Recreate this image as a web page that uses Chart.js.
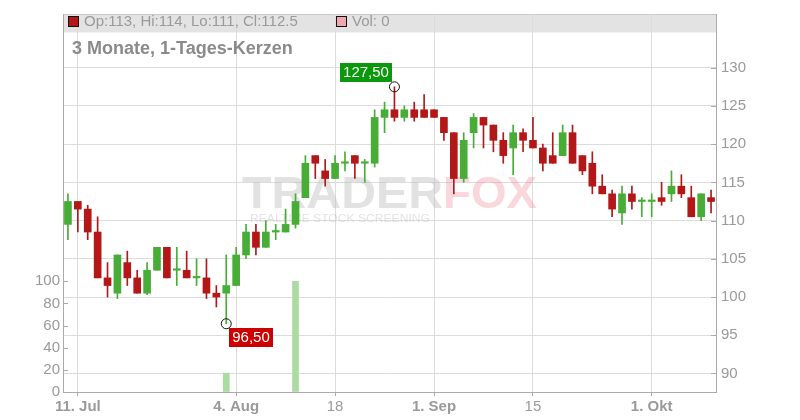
<!DOCTYPE html>
<html><head><meta charset="utf-8">
<script src="https://cdn.jsdelivr.net/npm/chart.js@4/dist/chart.umd.min.js"></script>
<style>html,body{margin:0;padding:0;background:#fff}#wrap{width:800px;height:420px;position:relative}canvas{display:block}</style>
</head><body><div id="wrap"><canvas id="c" width="800" height="420" style="width:800px;height:420px"></canvas></div>
<script>
const chartTitle = "3 Monate, 1-Tages-Kerzen";
const dates = [
"2025-07-10","2025-07-11","2025-07-14","2025-07-15","2025-07-16","2025-07-17","2025-07-18",
"2025-07-21","2025-07-22","2025-07-23","2025-07-24","2025-07-25",
"2025-07-28","2025-07-29","2025-07-30","2025-07-31","2025-08-01",
"2025-08-04","2025-08-05","2025-08-06","2025-08-07","2025-08-08",
"2025-08-11","2025-08-12","2025-08-13","2025-08-14","2025-08-15",
"2025-08-18","2025-08-19","2025-08-20","2025-08-21","2025-08-22",
"2025-08-25","2025-08-26","2025-08-27","2025-08-28","2025-08-29",
"2025-09-01","2025-09-02","2025-09-03","2025-09-04","2025-09-05",
"2025-09-08","2025-09-09","2025-09-10","2025-09-11","2025-09-12",
"2025-09-15","2025-09-16","2025-09-17","2025-09-18","2025-09-19",
"2025-09-22","2025-09-23","2025-09-24","2025-09-25","2025-09-26",
"2025-09-29","2025-09-30","2025-10-01","2025-10-02","2025-10-03",
"2025-10-06","2025-10-07","2025-10-08","2025-10-09"];
const opens = [109.5,112.5,111.5,108.5,102.5,100.5,104.5,102.5,100.5,103.5,
106.5,103.5,103.5,102.5,102.5,100.5,100.5,101.5,105.5,108.5,
106.5,108.5,108.5,109.5,113,118.5,116.5,115.5,117.5,118.5,
117.5,117.5,123.5,124.5,123.5,124.5,124.5,124.5,123.5,121.5,
115.5,121.5,123.5,122.5,120.5,119.5,121.5,120.5,119.5,118.5,
118.5,121.5,118.5,117.5,114.5,113.5,111,113.5,112.5,112.5,
113,113.5,114.5,113,110.5,113];
const highs = [113.5,112.5,112,110.5,104.5,105.5,106,103.5,104.5,106.5,
106.5,106.5,106,105,105,101.5,105.5,106.5,109.5,109.5,
110,109.5,111.5,113.5,118.5,118.5,118,118.5,119,118.5,
118,124.5,125.5,127.5,125,125.5,126.5,124.5,123.5,121.5,
121.5,124,123.5,122.5,121.5,122.5,122,123.5,120,121.5,
122.5,122.5,118.5,119,116,114,114.5,114.5,113,113.5,
115,116.5,116,114.5,113.5,114];
const lows = [107.5,108.5,107.5,102.5,100,99.8,101.5,100.5,100.3,103.5,
102.5,101.5,102.5,101.5,99.8,98.7,96.5,101.5,105,105.5,
106.5,107.5,108.5,109,113,115.5,114.5,115.5,116.5,115.5,
115,117,121.5,123,123,123,123.5,123.5,120.5,113.5,
115,119.5,119.5,119,117.5,116,119,119.5,116.5,117.5,
118.5,117.5,116,113.5,113.5,110.5,109.5,111.5,110.5,110.5,
112,112.5,113,110.5,110,111];
const closes = [112.5,111.5,108.5,102.5,101.5,105.5,102.5,100.5,103.5,106.5,
102.5,103.5,102.5,102.5,100.5,100,101.5,105.5,108.5,106.5,
108.5,108.5,109.5,112.5,117.5,117.5,115.5,117.5,117.5,117.5,
117.5,123.5,124.5,123.5,124.5,123.5,123.5,123.5,121.5,115.5,
120.5,123.5,122.5,120.5,118.5,121.5,120.5,119.5,117.5,117.5,
121.5,117.5,116.5,114.5,113.5,111.5,113.5,112.5,112.5,112.5,
112.5,114.5,113.5,110.5,113.5,112.5];
const volumes = [0,0,0,0,0,0,0,0,0,0,0,0,0,0,0,0,17,0,0,0,0,0,0,100,0,0,0,0,0,0,
0,0,0,0,0,0,0,0,0,0,0,0,0,0,0,0,0,0,0,0,0,0,0,0,0,0,0,0,0,0,0,0,0,0,0,0];
const xTickDates = ["2025-07-11","2025-08-04","2025-08-18","2025-09-01","2025-09-15","2025-10-01"];
const xTickLabels = ["11. Jul","4. Aug","18","1. Sep","15","1. Okt"];
const priceTicks = [90,95,100,105,110,115,120,125,130];
const volumeTicks = [0,20,40,60,80,100];

const FONT = '"Liberation Sans", Arial, sans-serif';
const RED = '#b31717', GREEN = '#47ad37', VOLC = '#aadca2';
const GRID = '#dcdcdc', AXIS = '#aaaaaa', TXT = '#9a9a9a';
const colors = closes.map((c, i) => c >= opens[i] ? GREEN : RED);
const labelFor = i => { const k = xTickDates.indexOf(dates[i]); return k >= 0 ? xTickLabels[k] : ''; };
const fmt = v => v.toFixed(2).replace('.', ',');

Chart.defaults.font.family = FONT;
Chart.defaults.font.size = 15;

const decor = {
  id: 'decor',
  beforeDraw(chart) {
    const {ctx, chartArea: a} = chart;
    ctx.save();
    ctx.fillStyle = '#e3e3e3';
    ctx.fillRect(a.left, a.top, a.right - a.left, 18.5);
    ctx.strokeStyle = '#c8c8c8'; ctx.lineWidth = 1;
    ctx.beginPath(); ctx.moveTo(a.left, a.top + 0.5); ctx.lineTo(a.right, a.top + 0.5); ctx.stroke();
    ctx.restore();
  },
  beforeDatasetsDraw(chart) {
    const {ctx, chartArea: a} = chart;
    ctx.save();
    // watermark
    ctx.textBaseline = 'alphabetic';
    ctx.font = 'bold 44px ' + FONT;
    let w = ctx.measureText('TRADER').width;
    ctx.save(); ctx.translate(242, 208); ctx.scale(201 / w, 1);
    ctx.fillStyle = 'rgba(185,185,185,0.42)'; ctx.fillText('TRADER', 0, 0); ctx.restore();
    w = ctx.measureText('FOX').width;
    ctx.save(); ctx.translate(443, 208); ctx.scale(94 / w, 1);
    ctx.fillStyle = 'rgba(235,95,115,0.25)'; ctx.fillText('FOX', 0, 0); ctx.restore();
    ctx.font = '11px ' + FONT;
    w = ctx.measureText('REALTIME STOCK SCREENING').width;
    ctx.save(); ctx.translate(250, 222); ctx.scale(180 / w, 1);
    ctx.fillStyle = 'rgba(190,190,190,0.45)'; ctx.fillText('REALTIME STOCK SCREENING', 0, 0); ctx.restore();
    // inward tick marks
    ctx.strokeStyle = AXIS; ctx.lineWidth = 1;
    const yv = chart.scales.yVol, yp = chart.scales.y;
    ctx.beginPath();
    yv.ticks.forEach(t => { const y = Math.round(yv.getPixelForValue(t.value)) + 0.5; ctx.moveTo(a.left, y); ctx.lineTo(a.left + 5, y); });
    yp.ticks.forEach(t => { const y = Math.round(yp.getPixelForValue(t.value)) + 0.5; ctx.moveTo(a.right - 5, y); ctx.lineTo(a.right, y); });
    ctx.stroke();
    ctx.restore();
  },
  afterDatasetsDraw(chart) {
    const {ctx} = chart;
    const xs = chart.scales.x, ys = chart.scales.y;
    ctx.save();
    // title
    ctx.font = 'bold 18px ' + FONT; ctx.fillStyle = '#8a8a8a'; ctx.textBaseline = 'alphabetic'; ctx.textAlign = 'left';
    ctx.fillText(chartTitle, 72, 54);
    // legend band
    const n = closes.length - 1;
    ctx.fillStyle = colors[n]; ctx.fillRect(68.5, 16.5, 10, 10);
    ctx.strokeStyle = '#111'; ctx.lineWidth = 1; ctx.strokeRect(68.5, 16.5, 10, 10);
    ctx.font = '15px ' + FONT; ctx.fillStyle = TXT; ctx.textBaseline = 'middle';
    ctx.fillText('Op:' + opens[n] + ', Hi:' + highs[n] + ', Lo:' + lows[n] + ', Cl:' + closes[n], 84, 22);
    ctx.fillStyle = '#f0a8b0'; ctx.fillRect(336.5, 16.5, 10, 10); ctx.strokeRect(336.5, 16.5, 10, 10);
    ctx.fillStyle = TXT; ctx.fillText('Vol: ' + volumes[n], 352, 22);
    // high / low markers
    const hi = highs.indexOf(Math.max(...highs));
    const lo = lows.indexOf(Math.min(...lows));
    const hx = xs.getPixelForValue(hi), hy = ys.getPixelForValue(highs[hi]);
    const lx = xs.getPixelForValue(lo), ly = ys.getPixelForValue(lows[lo]);
    ctx.strokeStyle = '#111';
    ctx.beginPath(); ctx.arc(hx, hy, 5, 0, Math.PI * 2); ctx.stroke();
    ctx.beginPath(); ctx.arc(lx, ly, 5, 0, Math.PI * 2); ctx.stroke();
    ctx.textAlign = 'center';
    ctx.fillStyle = '#0a990a'; ctx.fillRect(Math.round(hx - 54), Math.round(hy - 24), 52, 19);
    ctx.fillStyle = '#fff'; ctx.fillText(fmt(highs[hi]), Math.round(hx - 54) + 26, Math.round(hy - 24) + 10);
    ctx.fillStyle = '#cc0000'; ctx.fillRect(Math.round(lx + 3), Math.round(ly + 4), 44, 19);
    ctx.fillStyle = '#fff'; ctx.fillText(fmt(lows[lo]), Math.round(lx + 3) + 22, Math.round(ly + 4) + 10);
    ctx.restore();
  }
};

new Chart(document.getElementById('c'), {
  type: 'bar',
  data: {
    labels: dates,
    datasets: [
      { label: 'Body', data: opens.map((o, i) => [o, closes[i]]), yAxisID: 'y', backgroundColor: colors,
        barThickness: 7, minBarLength: 1.5, grouped: false, borderWidth: 0 },
      { label: 'Wick', data: lows.map((l, i) => [l, highs[i]]), yAxisID: 'y', backgroundColor: colors,
        barThickness: 1, grouped: false, borderWidth: 0 },
      { label: 'Vol', data: volumes.map(v => v > 0 ? v : null), yAxisID: 'yVol', backgroundColor: VOLC,
        barThickness: 6, grouped: false, borderWidth: 0 }
    ]
  },
  options: {
    responsive: false, animation: false, devicePixelRatio: 1,
    layout: { padding: { top: 12, left: 0, right: 0, bottom: 0 } },
    plugins: { legend: { display: false }, tooltip: { enabled: false }, title: { display: false } },
    scales: {
      x: {
        type: 'category', offset: true,
        grid: { offset: false, drawTicks: true, tickLength: 4,
          color: c => labelFor(c.index) ? GRID : 'rgba(0,0,0,0)',
          tickColor: c => labelFor(c.index) ? AXIS : 'rgba(0,0,0,0)' },
        border: { color: AXIS },
        ticks: { autoSkip: false, maxRotation: 0, minRotation: 0, padding: 2, color: TXT,
          font: c => ({ family: FONT, size: 15, weight: labelFor(c.index).indexOf('.') >= 0 ? 'bold' : 'normal' }),
          callback: (v, i) => labelFor(i) },
        afterFit: s => { s.height = 28; }
      },
      y: {
        position: 'right', min: 87.57, max: 137.03,
        grid: { color: GRID, drawTicks: false },
        border: { color: AXIS },
        ticks: { color: TXT, padding: 5, font: { size: 15 } },
        afterBuildTicks: s => { s.ticks = priceTicks.map(v => ({ value: v })); },
        afterFit: s => { s.width = 84; }
      },
      yVol: {
        position: 'left', min: 0, max: 341.4,
        grid: { drawOnChartArea: false, drawTicks: false },
        border: { color: AXIS },
        ticks: { color: TXT, padding: 3, font: { size: 15 } },
        afterBuildTicks: s => { s.ticks = volumeTicks.map(v => ({ value: v })); },
        afterFit: s => { s.width = 63; }
      }
    }
  },
  plugins: [decor]
});
</script>
</body></html>
